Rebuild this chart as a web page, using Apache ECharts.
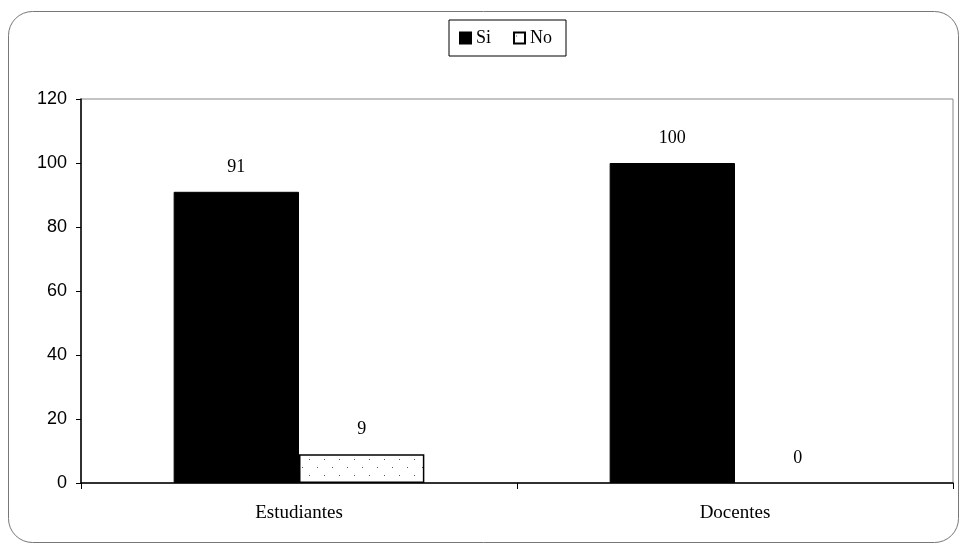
<!DOCTYPE html>
<html><head><meta charset="utf-8">
<script src="https://cdn.jsdelivr.net/npm/echarts@6/dist/echarts.min.js"></script>
<style>html,body{margin:0;padding:0;background:#fff}#c{width:964px;height:546px}</style>
</head><body><div id="c"></div>
<script>
const categories = ['Estudiantes', 'Docentes'];
const siValues = [91, 100];
const noValues = [9, 0];
const seriesNames = ['Si', 'No'];

const tile = document.createElement('canvas');
tile.width = 15; tile.height = 16;
const tc = tile.getContext('2d');
tc.fillStyle = '#fff'; tc.fillRect(0, 0, 15, 16);
tc.fillStyle = '#555';
tc.fillRect(2, 3, 1, 1);
tc.fillRect(9, 11, 1, 1);

const noData = noValues.map(v => v === 0 ? {value: v, itemStyle: {borderWidth: 0}} : v);

const chart = echarts.init(document.getElementById('c'), null, {renderer: 'canvas'});
const labelStyle = {show: true, position: 'top', distance: 16, fontFamily: 'Liberation Serif', fontSize: 18, color: '#000'};
chart.setOption({
  animation: false,
  backgroundColor: '#fff',
  graphic: [{type: 'rect', shape: {x: 8.5, y: 11.5, width: 950, height: 531, r: 24}, style: {fill: 'none', stroke: '#777', lineWidth: 1}, z: -1}],
  legend: {
    top: 20, left: 449, data: seriesNames, icon: 'rect',
    itemWidth: 11, itemHeight: 11, itemGap: 22,
    borderColor: '#000', borderWidth: 1, padding: [9, 14, 9, 10],
    textStyle: {fontFamily: 'Liberation Serif', fontSize: 18, color: '#000'}
  },
  grid: {left: 81, right: 11, top: 99, bottom: 63, show: true, borderColor: '#888', borderWidth: 1, backgroundColor: 'transparent'},
  xAxis: {
    type: 'category', data: categories,
    axisLine: {lineStyle: {color: '#000', width: 1.5}},
    axisTick: {show: true, length: 6, lineStyle: {color: '#000'}},
    axisLabel: {fontFamily: 'Liberation Serif', fontSize: 19, color: '#000', margin: 21},
    splitLine: {show: false}
  },
  yAxis: {
    type: 'value', min: 0, max: 120, interval: 20,
    axisLine: {show: true, lineStyle: {color: '#000', width: 1.5}},
    axisTick: {show: true, length: 5, lineStyle: {color: '#000'}},
    axisLabel: {fontFamily: 'Liberation Sans', fontSize: 18, color: '#000', margin: 14},
    splitLine: {show: false}
  },
  series: [
    {name: seriesNames[0], type: 'bar', data: siValues, barGap: '0%', barCategoryGap: '42.5%',
     itemStyle: {color: '#000', borderColor: '#000', borderWidth: 1}, label: labelStyle},
    {name: seriesNames[1], type: 'bar', data: noData, barGap: '0%', barCategoryGap: '42.5%',
     itemStyle: {color: {image: tile, repeat: 'repeat'}, borderColor: '#000', borderWidth: 1.5}, label: labelStyle}
  ]
});
</script></body></html>
